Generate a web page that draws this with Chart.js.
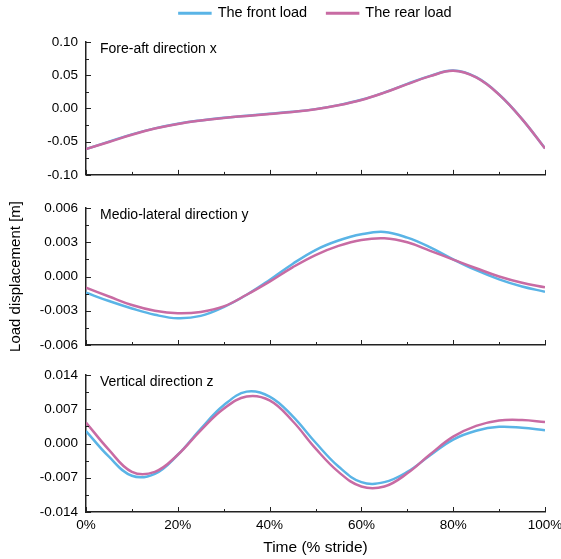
<!DOCTYPE html>
<html>
<head>
<meta charset="utf-8">
<script src="https://cdn.jsdelivr.net/npm/chart.js@4.4.1/dist/chart.umd.min.js"></script>
<style>
  body { margin: 0; background: #fff; }
  #wrap { position: relative; width: 561px; height: 559px; overflow: hidden; }
  #wrap canvas { position: absolute; left: 0; }
</style>
</head>
<body>
<div id="wrap">
  <canvas id="chartX" width="561" height="205" style="top:-14px"></canvas>
  <canvas id="chartY" width="561" height="185" style="top:180px"></canvas>
  <canvas id="chartZ" width="561" height="214" style="top:345px"></canvas>
</div>
<script>
// time in % stride
const stride = [0, 5, 10, 15, 20, 25, 30, 35, 40, 45, 50, 55, 60, 65, 70, 75, 80, 85, 90, 95, 100];
const strideTicks = [0, 20, 40, 60, 80, 100];

// fore-aft direction x [m]
const foreAftFront = [-0.0610, -0.0500, -0.0390, -0.0300, -0.0230, -0.0180, -0.0140, -0.0110, -0.0080, -0.0050, -0.0010, 0.0050, 0.0130, 0.0240, 0.0370, 0.0490, 0.0570, 0.0470, 0.0210, -0.0160, -0.0600];
const foreAftRear = [-0.0610, -0.0505, -0.0395, -0.0303, -0.0233, -0.0182, -0.0142, -0.0112, -0.0082, -0.0052, -0.0012, 0.0048, 0.0128, 0.0238, 0.0366, 0.0486, 0.0566, 0.0466, 0.0208, -0.0161, -0.0602];
const foreAftTicks = [-0.10, -0.05, 0, 0.05, 0.10];

// medio-lateral direction y [m]
const medioFront = [-0.00142, -0.00215, -0.00280, -0.00335, -0.00366, -0.00345, -0.00268, -0.00160, -0.00030, 0.00110, 0.00232, 0.00315, 0.00370, 0.00390, 0.00340, 0.00255, 0.00150, 0.00055, -0.00025, -0.00088, -0.00133];
const medioRear = [-0.00098, -0.00175, -0.00250, -0.00300, -0.00322, -0.00310, -0.00262, -0.00160, -0.00045, 0.00080, 0.00188, 0.00268, 0.00320, 0.00335, 0.00300, 0.00225, 0.00148, 0.00072, 0.00000, -0.00055, -0.00095];
const medioTicks = [-0.006, -0.003, 0, 0.003, 0.006];

// vertical direction z [m]
const verticalFront = [0.00255, -0.0027, -0.0066, -0.0062, -0.0023, 0.0030, 0.0078, 0.0106, 0.0096, 0.0056, 0.0002, -0.0047, -0.0079, -0.0079, -0.0058, -0.0024, 0.0008, 0.0026, 0.0034, 0.0032, 0.0027];
const verticalRear = [0.0043, -0.0013, -0.0058, -0.0058, -0.0023, 0.0027, 0.0071, 0.0096, 0.0088, 0.0046, -0.0010, -0.0058, -0.0088, -0.0088, -0.0061, -0.0022, 0.0014, 0.0036, 0.0047, 0.0048, 0.0044];
const verticalTicks = [-0.014, -0.007, 0, 0.007, 0.014];

const frontColor = '#5ab4e6';
const rearColor = '#c86ba3';
const axisColor = '#222';

Chart.defaults.font.family = '"Liberation Sans", Arial, sans-serif';
Chart.defaults.font.size = 13.5;
Chart.defaults.color = '#000';

// ticks pointing into the plot, with minor ticks half way
const innerTicks = {
  id: 'innerTicks',
  afterDatasetsDraw(chart) {
    const { ctx, chartArea: a, scales: { x, y } } = chart;
    ctx.save();
    ctx.strokeStyle = axisColor;
    ctx.lineWidth = 1;
    ctx.beginPath();
    const yv = y.ticks.map(t => t.value);
    yv.forEach((v, i) => {
      const py = Math.round(y.getPixelForValue(v)) + 0.5;
      ctx.moveTo(a.left, py); ctx.lineTo(a.left + 5, py);
      if (i < yv.length - 1) {
        const pm = Math.round(y.getPixelForValue((v + yv[i + 1]) / 2)) + 0.5;
        ctx.moveTo(a.left, pm); ctx.lineTo(a.left + 3, pm);
      }
    });
    const xv = x.ticks.map(t => t.value);
    xv.forEach((v, i) => {
      const px = Math.round(x.getPixelForValue(v)) + 0.5;
      ctx.moveTo(px, a.bottom); ctx.lineTo(px, a.bottom - 5);
      if (i < xv.length - 1) {
        const pm = Math.round(x.getPixelForValue((v + xv[i + 1]) / 2)) + 0.5;
        ctx.moveTo(pm, a.bottom); ctx.lineTo(pm, a.bottom - 3);
      }
    });
    ctx.stroke();
    ctx.restore();
  }
};

const panelLabel = {
  id: 'panelLabel',
  afterDraw(chart, args, opts) {
    const { ctx, chartArea } = chart;
    ctx.save();
    ctx.font = '14px "Liberation Sans", Arial, sans-serif';
    ctx.fillStyle = '#000';
    ctx.textBaseline = 'alphabetic';
    ctx.fillText(opts.text, chartArea.left + 14, chartArea.top + 11);
    ctx.restore();
  }
};

// the legend sits above the first panel, keep its box short
const legendSpace = {
  id: 'legendSpace',
  beforeInit(chart) {
    const fit = chart.legend.fit;
    chart.legend.fit = function () {
      fit.call(this);
      this.height = 56;
    };
  }
};

function series(values) {
  return stride.map((s, i) => ({ x: s, y: values[i] }));
}

function makeChart(id, p) {
  const plugins = [innerTicks, panelLabel];
  if (p.legend) plugins.push(legendSpace);
  return new Chart(document.getElementById(id), {
    type: 'line',
    data: {
      datasets: [
        { label: 'The front load', data: series(p.front), borderColor: frontColor, backgroundColor: frontColor, order: 1 },
        { label: 'The rear load', data: series(p.rear), borderColor: rearColor, backgroundColor: rearColor, order: 0 },
      ],
    },
    options: {
      responsive: false,
      animation: false,
      devicePixelRatio: 1,
      layout: { padding: p.padding },
      elements: {
        line: { borderWidth: 2.5, tension: 0.4, fill: false },
        point: { radius: 0 },
      },
      plugins: {
        legend: {
          display: !!p.legend,
          position: 'top',
          fullSize: false,
          labels: {
            boxWidth: 31,
            boxHeight: 0.5,
            padding: 20,
            font: { size: 14.5 },
            sort: (a, b) => a.datasetIndex - b.datasetIndex,
          },
        },
        tooltip: { enabled: false },
        panelLabel: { text: p.label },
      },
      scales: {
        x: {
          type: 'linear',
          min: 0,
          max: 100,
          afterBuildTicks: s => { s.ticks = strideTicks.map(v => ({ value: v })); },
          afterFit: s => { s.height = p.xHeight; s.paddingLeft = 0; s.paddingRight = 0; },
          grid: { drawOnChartArea: false, drawTicks: false },
          border: { color: axisColor, width: 1.5 },
          ticks: { display: !!p.xLabels, padding: 5, callback: v => v + '%' },
          title: {
            display: !!p.xLabels,
            text: 'Time (% stride)',
            font: { size: 15.5 },
            padding: { top: 0, bottom: 2 },
          },
        },
        y: {
          min: p.ticks[0],
          max: p.ticks[p.ticks.length - 1],
          afterBuildTicks: s => { s.ticks = p.ticks.map(v => ({ value: v })); },
          afterFit: s => { s.width = 86; },
          grid: { drawOnChartArea: false, drawTicks: false },
          border: { color: axisColor, width: 1.5 },
          ticks: {
            padding: 8,
            callback: v => (Math.abs(v) < 1e-12 ? 0 : v).toFixed(p.digits),
          },
          title: {
            display: !!p.yTitle,
            text: 'Load displacement [m]',
            font: { size: 15 },
            padding: { top: 7, bottom: 0 },
          },
        },
      },
    },
    plugins,
  });
}

makeChart('chartX', {
  front: foreAftFront, rear: foreAftRear, ticks: foreAftTicks, digits: 2,
  label: 'Fore-aft direction x', legend: true, xHeight: 0,
  padding: { top: 0, right: 16, bottom: 12, left: 0 },
});

makeChart('chartY', {
  front: medioFront, rear: medioRear, ticks: medioTicks, digits: 3,
  label: 'Medio-lateral direction y', yTitle: true, xHeight: 0,
  padding: { top: 28, right: 16, bottom: 20, left: 0 },
});

makeChart('chartZ', {
  front: verticalFront, rear: verticalRear, ticks: verticalTicks, digits: 3,
  label: 'Vertical direction z', xLabels: true, xHeight: 47,
  padding: { top: 30, right: 16, bottom: 0, left: 0 },
});
</script>
</body>
</html>
